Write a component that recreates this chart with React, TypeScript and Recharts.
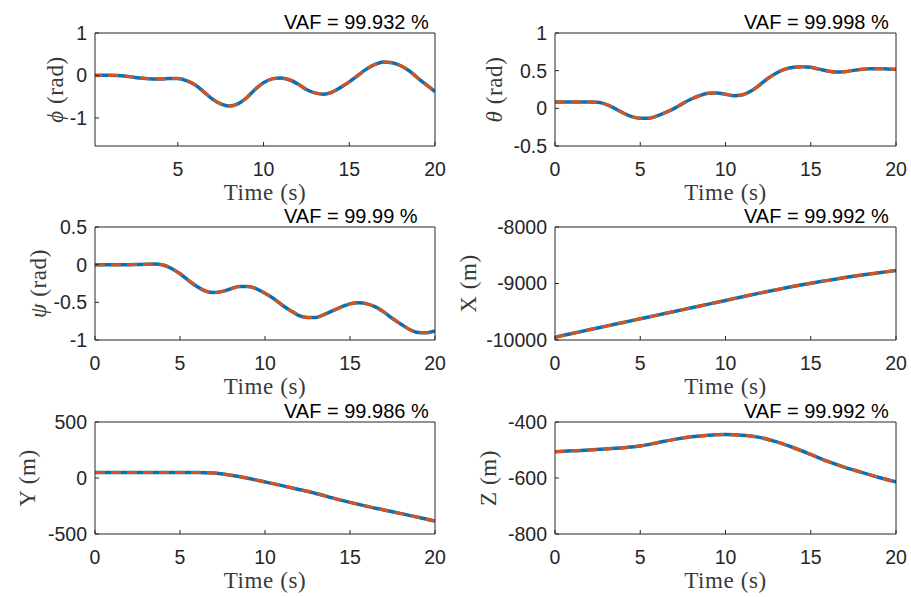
import React from 'react';
import { LineChart, Line, XAxis, YAxis } from 'recharts';

// time bases (s)
const timeFine = [
  0, 0.5, 1, 1.5, 2, 2.5, 3, 3.5, 4, 4.5, 5, 5.5, 6, 6.5, 7, 7.5, 8, 8.5, 9, 9.5, 10,
  10.5, 11, 11.5, 12, 12.5, 13, 13.5, 14, 14.5, 15, 15.5, 16, 16.5, 17, 17.5, 18, 18.5, 19, 19.5, 20,
];
const timeCoarse = [0, 1, 2, 3, 4, 5, 6, 7, 8, 9, 10, 11, 12, 13, 14, 15, 16, 17, 18, 19, 20];

// attitude (rad), sampled on timeFine
const phi = [
  0, 0.005, 0.005, 0, -0.02, -0.045, -0.065, -0.08, -0.08, -0.07, -0.07, -0.12, -0.22, -0.38, -0.55,
  -0.67, -0.72, -0.67, -0.53, -0.33, -0.17, -0.08, -0.06, -0.1, -0.2, -0.33, -0.41, -0.44, -0.39,
  -0.28, -0.15, 0, 0.15, 0.26, 0.32, 0.3, 0.23, 0.11, -0.06, -0.22, -0.38,
];
const theta = [
  0.084, 0.084, 0.084, 0.084, 0.084, 0.08, 0.053, 0, -0.062, -0.11, -0.133, -0.133, -0.1, -0.053, 0,
  0.066, 0.124, 0.17, 0.2, 0.204, 0.186, 0.168, 0.18, 0.23, 0.31, 0.4, 0.47, 0.52, 0.545, 0.553,
  0.545, 0.52, 0.496, 0.482, 0.487, 0.504, 0.518, 0.527, 0.527, 0.522, 0.518,
];
const psi = [
  0, 0, 0, 0, 0, 0.002, 0.004, 0.01, -0.004, -0.05, -0.12, -0.21, -0.29, -0.35, -0.37, -0.355,
  -0.32, -0.29, -0.29, -0.32, -0.38, -0.45, -0.535, -0.61, -0.675, -0.7, -0.7, -0.66, -0.61, -0.56,
  -0.52, -0.505, -0.52, -0.56, -0.63, -0.715, -0.79, -0.86, -0.9, -0.905, -0.88,
];

// position (m), sampled on timeCoarse
const posX = [
  -9950, -9885, -9820, -9755, -9690, -9625, -9560, -9495, -9430, -9365, -9300, -9235, -9170,
  -9110, -9050, -8995, -8945, -8895, -8850, -8810, -8770,
];
const posY = [
  50, 50, 50, 50, 50, 50, 50, 44, 24, -3, -35, -68, -103, -138, -179, -218, -253, -285, -318, -350, -385,
];
const posZ = [
  -506, -503, -500, -496, -492, -486, -474, -462, -453, -447, -445, -447, -455, -471, -492, -516,
  -541, -562, -580, -598, -614,
];

const vafText = [
  'VAF = 99.932 %',
  'VAF = 99.998 %',
  'VAF = 99.99 %',
  'VAF = 99.992 %',
  'VAF = 99.986 %',
  'VAF = 99.992 %',
];

const BLUE = '#0072BD';
const ORANGE = '#D95319';
const AXIS = '#262626';
const LABEL = '#3a3a3a';
const SANS = '"Liberation Sans", Arial, Helvetica, sans-serif';
const SERIF = '"Liberation Serif", "Times New Roman", serif';
const TICK = 4;

// layout of the 3x2 grid (page px)
const colCell = [{ x: 0, w: 455 }, { x: 455, w: 456 }];
const rowCell = [{ y: 0, h: 205 }, { y: 205, h: 195 }, { y: 400, h: 197 }];
const colPlot = [{ l: 95, r: 435 }, { l: 555, r: 896 }];
const rowPlot = [{ t: 33, b: 146 }, { t: 227, b: 340 }, { t: 422, b: 534 }];

const panels = [
  { t: timeFine, v: phi, sym: 'ϕ', greek: true, unit: ' (rad)', vaf: vafText[0], xDomain: [0.17, 20], xTicks: [5, 10, 15, 20], yDomain: [-1.66, 1], yTicks: [-1, 0, 1], row: 0, col: 0, gap: 40 },
  { t: timeFine, v: theta, sym: 'θ', greek: true, unit: ' (rad)', vaf: vafText[1], xDomain: [0, 20], xTicks: [0, 5, 10, 15, 20], yDomain: [-0.5, 1], yTicks: [-0.5, 0, 0.5, 1], row: 0, col: 1, gap: 61 },
  { t: timeFine, v: psi, sym: 'ψ', greek: true, unit: ' (rad)', vaf: vafText[2], xDomain: [0, 20], xTicks: [0, 5, 10, 15, 20], yDomain: [-1, 0.5], yTicks: [-1, -0.5, 0, 0.5], row: 1, col: 0, gap: 57 },
  { t: timeCoarse, v: posX, sym: 'X', greek: false, unit: ' (m)', vaf: vafText[3], xDomain: [0, 20], xTicks: [0, 5, 10, 15, 20], yDomain: [-10000, -8000], yTicks: [-10000, -9000, -8000], row: 1, col: 1, gap: 87 },
  { t: timeCoarse, v: posY, sym: 'Y', greek: false, unit: ' (m)', vaf: vafText[4], xDomain: [0, 20], xTicks: [0, 5, 10, 15, 20], yDomain: [-500, 500], yTicks: [-500, 0, 500], row: 2, col: 0, gap: 68 },
  { t: timeCoarse, v: posZ, sym: 'Z', greek: false, unit: ' (m)', vaf: vafText[5], xDomain: [0, 20], xTicks: [0, 5, 10, 15, 20], yDomain: [-800, -400], yTicks: [-800, -600, -400], row: 2, col: 1, gap: 67 },
];

function Panel({ p }: { p: any }) {
  const cx = colCell[p.col].x;
  const cw = colCell[p.col].w;
  const cy = rowCell[p.row].y;
  const ch = rowCell[p.row].h;
  const pl = colPlot[p.col].l;
  const pr = colPlot[p.col].r;
  const pt = rowPlot[p.row].t;
  const pb = rowPlot[p.row].b;
  const data = p.t.map((t: number, i: number) => ({ t, meas: p.v[i], model: p.v[i] }));
  const tickStyle = { fill: AXIS, fontSize: 19.5, fontFamily: SANS };

  const yLabel = (props: any) => {
    const vb = props.viewBox;
    const x = vb.x + vb.width - p.gap;
    const y = vb.y + vb.height / 2;
    return (
      <text x={x} y={y} dy="0.35em" transform={`rotate(-90 ${x} ${y})`} textAnchor="middle"
        fontFamily={SERIF} fontSize={23} letterSpacing={0.6} fill={LABEL}>
        {p.greek ? <tspan fontStyle="italic">{p.sym}</tspan> : <tspan>{p.sym}</tspan>}
        <tspan>{p.unit}</tspan>
      </text>
    );
  };
  const xLabel = (props: any) => {
    const vb = props.viewBox;
    return (
      <text x={vb.x + vb.width / 2} y={vb.y + 53.7} textAnchor="middle" fontFamily={SERIF} fontSize={23}
        letterSpacing={0.6} fill={LABEL}>
        Time (s)
      </text>
    );
  };
  const vafLabel = (props: any) => {
    const vb = props.viewBox;
    return (
      <text x={vb.x + 189} y={vb.y + vb.height - 4} textAnchor="start" fontFamily={SANS} fontSize={20} fill="#000">
        {p.vaf}
      </text>
    );
  };

  return (
    <div style={{ position: 'absolute', left: cx, top: cy, width: cw, height: ch }}>
      <LineChart
        width={cw}
        height={ch}
        data={data}
        margin={{ top: pt - cy - 1, left: pl - cx - 1, right: cx + cw - pr - 1, bottom: cy + ch - pb - 1 }}
      >
        <XAxis dataKey="t" type="number" domain={p.xDomain} allowDataOverflow ticks={p.xTicks} interval={0}
          height={1} tickSize={-TICK} tickMargin={TICK + 16} stroke={AXIS} tick={tickStyle} label={xLabel} />
        <XAxis xAxisId="top" orientation="top" type="number" domain={p.xDomain} allowDataOverflow ticks={p.xTicks}
          interval={0} height={1} tickSize={-TICK} stroke={AXIS} tick={false} label={vafLabel} />
        <YAxis type="number" domain={p.yDomain} allowDataOverflow ticks={p.yTicks} interval={0} width={1}
          tickSize={-TICK} tickMargin={TICK + 8} stroke={AXIS} tick={tickStyle} label={yLabel} />
        <YAxis yAxisId="right" orientation="right" type="number" domain={p.yDomain} allowDataOverflow ticks={p.yTicks}
          interval={0} width={1} tickSize={-TICK} stroke={AXIS} tick={false} />
        <Line dataKey="meas" type="monotone" stroke={BLUE} strokeWidth={3.5} dot={false} activeDot={false} isAnimationActive={false} />
        <Line dataKey="model" type="monotone" stroke={ORANGE} strokeWidth={3} strokeDasharray="10 6" dot={false} activeDot={false} isAnimationActive={false} />
      </LineChart>
    </div>
  );
}

export default function App() {
  return (
    <div style={{ position: 'absolute', left: 0, top: 0, width: 911, height: 597, background: '#fff', fontFamily: SANS }}>
      {panels.map((p, i) => (
        <Panel key={i} p={p} />
      ))}
    </div>
  );
}
